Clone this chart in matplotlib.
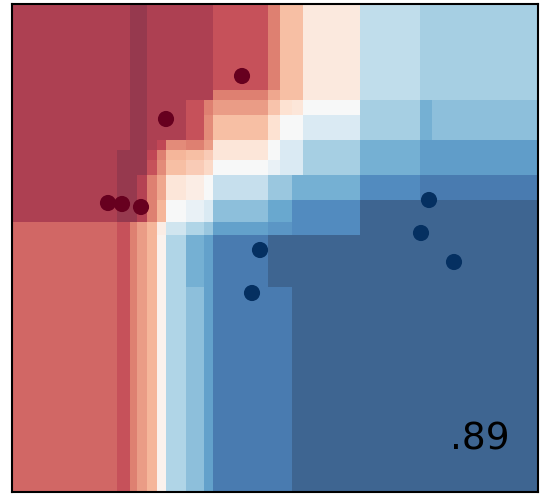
import numpy as np
import matplotlib
matplotlib.use("Agg")
import matplotlib.pyplot as plt

# -------------------------------
# Decision surface (cell edges + class-1 probability per cell)
# -------------------------------
x_edges = [12, 117, 130, 137, 147, 157, 166, 186, 204, 213, 268, 280, 292, 303, 360, 420, 432, 538]
y_edges = [4, 90, 100, 115, 140, 150, 160, 175, 200, 222, 235, 287, 492]

M, D, L = 0.07, 0.03, 0.16   # main red, dark stripe, lower-left red

proba = [
    [M, M, D, D, M, M, M, M, M, 0.12, 0.20, 0.32, 0.32, 0.43, 0.65, 0.70, 0.70],
    [M, M, D, D, M, M, M, M, M, 0.20, 0.27, 0.32, 0.32, 0.43, 0.65, 0.70, 0.70],
    [M, M, D, D, M, M, M, 0.12, 0.20, 0.25, 0.33, 0.40, 0.42, 0.50, 0.70, 0.78, 0.74],
    [M, M, D, D, M, M, M, 0.12, 0.22, 0.32, 0.40, 0.50, 0.50, 0.60, 0.70, 0.78, 0.74],
    [M, M, D, D, M, 0.10, 0.22, 0.20, 0.25, 0.42, 0.50, 0.60, 0.60, 0.70, 0.78, 0.83, 0.83],
    [M, D, D, D, 0.10, 0.20, 0.30, 0.32, 0.35, 0.42, 0.50, 0.60, 0.60, 0.70, 0.78, 0.83, 0.83],
    [M, D, D, D, 0.12, 0.22, 0.32, 0.35, 0.38, 0.50, 0.55, 0.60, 0.60, 0.70, 0.78, 0.83, 0.83],
    [M, D, D, 0.08, 0.20, 0.27, 0.42, 0.45, 0.50, 0.64, 0.72, 0.72, 0.78, 0.78, 0.88, 0.92, 0.92],
    [M, D, D, 0.08, 0.20, 0.30, 0.50, 0.55, 0.60, 0.74, 0.80, 0.80, 0.88, 0.88, 0.97, 0.97, 0.97],
    [L, 0.12, 0.20, 0.25, 0.30, 0.45, 0.62, 0.68, 0.72, 0.82, 0.85, 0.85, 0.88, 0.88, 0.97, 0.97, 0.97],
    [L, 0.12, 0.20, 0.25, 0.30, 0.47, 0.68, 0.78, 0.82, 0.92, 0.97, 0.97, 0.97, 0.97, 0.97, 0.97, 0.97],
    [L, 0.12, 0.20, 0.25, 0.30, 0.47, 0.68, 0.74, 0.82, 0.92, 0.92, 0.92, 0.97, 0.97, 0.97, 0.97, 0.97],
]

# -------------------------------
# Test points
# -------------------------------
red_x = [242, 166, 108, 122, 141]
red_y = [76, 119, 203, 204, 207]
blue_x = [429, 421, 454, 260, 252]
blue_y = [200, 233, 262, 250, 293]

score_text = ".89"

# -------------------------------
# Plot
# -------------------------------
fig = plt.figure(figsize=(5.4, 4.95), dpi=100)
ax = fig.add_axes([12 / 540, 3 / 495, 526 / 540, 488 / 495])

ax.pcolormesh(x_edges, y_edges, np.array(proba), cmap="RdBu",
              vmin=0, vmax=1, alpha=0.8, shading="flat")

cmap = plt.get_cmap("RdBu")
ax.scatter(red_x, red_y, s=135, color=cmap(0.0), edgecolors="none", zorder=3)
ax.scatter(blue_x, blue_y, s=135, color=cmap(1.0), edgecolors="none", zorder=3)

ax.set_xlim(x_edges[0], x_edges[-1])
ax.set_ylim(y_edges[-1], y_edges[0])
ax.set_xticks([])
ax.set_yticks([])
for sp in ax.spines.values():
    sp.set_linewidth(1.5)

ax.text(510, 450, score_text, fontsize=27, ha="right", va="baseline")

fig.savefig("out.png", dpi=100)
